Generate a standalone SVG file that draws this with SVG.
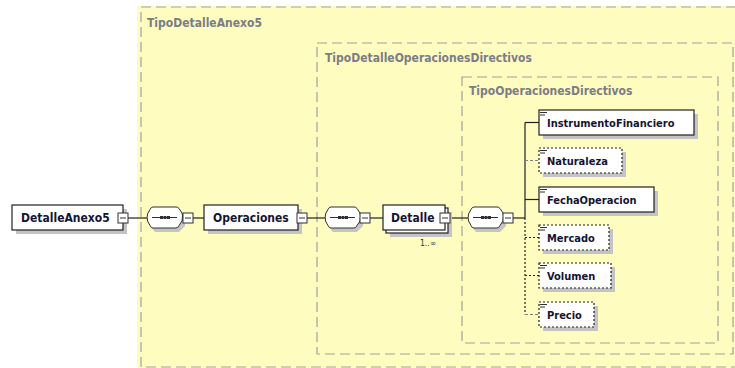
<svg xmlns="http://www.w3.org/2000/svg" width="735" height="368" viewBox="0 0 735 368">
<style>
.frame{fill:none;stroke:#a0a0a0;stroke-width:1.2;stroke-dasharray:10,5}
.tlabel{font-family:"DejaVu Sans Condensed","DejaVu Sans",sans-serif;font-weight:bold;font-size:12px;fill:#7c7c86}
.box{fill:#ffffff;stroke:#202020;stroke-width:1.2}
.obox{fill:#ffffff;stroke:#202020;stroke-width:1.2;stroke-dasharray:2,2}
.shadow{fill:#c4c4c4}
.name{font-family:"DejaVu Sans Condensed","DejaVu Sans",sans-serif;font-weight:bold;font-size:11px;fill:#141432}
.big{font-size:12px}
.line{stroke:#202020;stroke-width:1.2;fill:none}
.dline{stroke:#202020;stroke-width:1.2;fill:none;stroke-dasharray:2,2}
.gline{stroke:#808080;stroke-width:1;fill:none;stroke-dasharray:3,2}
.mb{fill:#ffffff;stroke:#303030;stroke-width:1}
.comp{fill:#ffffff;stroke:#303030;stroke-width:1}
.icon{stroke:#303030;stroke-width:1}
</style>
<defs>
<g id="minus"><rect class="mb" x="0" y="0" width="10" height="10"/><line class="icon" x1="2" y1="5" x2="8" y2="5"/></g>
<g id="seq">
<path class="shadow" d="M8,3 H32 L38,9 V19 L32,25 H8 L3,19 V9 Z"/>
<path class="comp" d="M6,0 H29 Q31,0 32,1.5 L35,6 Q36,8 35,14 L32,18.5 Q31,21 29,21 H6 Q4,21 3,18.5 L0.5,14 Q0,10.5 0.5,7 L3,2.5 Q4,0 6,0 Z"/>
<line class="icon" x1="5" y1="10.5" x2="30" y2="10.5"/>
<rect x="13" y="9" width="3" height="3" fill="#303030"/>
<rect x="16.5" y="9" width="3" height="3" fill="#303030"/>
<rect x="20" y="9" width="3" height="3" fill="#303030"/>
</g>
<g id="eq"><line class="icon" x1="0" y1="0.5" x2="7" y2="0.5"/><line class="icon" x1="0" y1="3" x2="5" y2="3"/></g>
</defs>

<g id="frames">
<rect x="137" y="6" width="598" height="362" fill="#fffcc0"/>
<rect class="frame" x="141" y="7" width="600" height="360"/>
<text class="tlabel" x="147" y="27">TipoDetalleAnexo5</text>
<rect class="frame" x="317" y="43" width="416" height="311"/>
<text class="tlabel" x="325" y="62">TipoDetalleOperacionesDirectivos</text>
<rect class="frame" x="462" y="77" width="256" height="266"/>
<text class="tlabel" x="469" y="95">TipoOperacionesDirectivos</text>
</g>

<g id="connectors">
<line class="line" x1="128" y1="218" x2="147" y2="218"/>
<line class="line" x1="193" y1="218" x2="204" y2="218"/>
<line class="line" x1="307" y1="218" x2="325" y2="218"/>
<line class="line" x1="370" y1="218" x2="383" y2="218"/>
<line class="line" x1="451" y1="218" x2="468" y2="218"/>
<line class="line" x1="513" y1="218" x2="525" y2="218"/>
<line class="line" x1="525" y1="122.5" x2="525" y2="218"/>
<line class="dline" x1="525" y1="218" x2="525" y2="314.5"/>
<line class="line" x1="525" y1="122.5" x2="539" y2="122.5"/>
<line class="gline" x1="525" y1="160.5" x2="539" y2="160.5"/>
<line class="line" x1="525" y1="199.5" x2="539" y2="199.5" stroke="#606060"/>
<line class="dline" x1="525" y1="237.5" x2="539" y2="237.5"/>
<line class="dline" x1="525" y1="275.5" x2="539" y2="275.5"/>
<line class="gline" x1="525" y1="314.5" x2="539" y2="314.5"/>
</g>

<g id="DetalleAnexo5">
<rect class="shadow" x="16" y="209" width="111" height="25"/>
<rect class="box" x="12" y="205" width="111" height="25"/>
<text class="name big" x="21" y="222">DetalleAnexo5</text>
<use href="#minus" x="118" y="213"/>
</g>

<g id="seq1"><use href="#seq" x="147" y="207"/><use href="#minus" x="183" y="213"/></g>

<g id="Operaciones">
<rect class="shadow" x="208" y="209" width="94" height="25"/>
<rect class="box" x="204" y="205" width="94" height="25"/>
<text class="name big" x="213" y="222">Operaciones</text>
<use href="#minus" x="297" y="213"/>
</g>

<g id="seq2"><use href="#seq" x="325" y="207"/><use href="#minus" x="360" y="213"/></g>

<g id="Detalle">
<rect class="shadow" x="390" y="212" width="62" height="25"/>
<rect class="box" x="386" y="208" width="62" height="25"/>
<rect class="box" x="383" y="205" width="62" height="25"/>
<text class="name big" x="391" y="222">Detalle</text>
<use href="#minus" x="440" y="213"/>
<text x="420" y="246" font-family="DejaVu Sans Condensed, DejaVu Sans, sans-serif" font-size="8.5px" fill="#303050">1..∞</text>
</g>

<g id="seq3"><use href="#seq" x="468" y="207"/><use href="#minus" x="503" y="213"/></g>

<g id="InstrumentoFinanciero">
<rect class="shadow" x="543" y="114" width="155" height="25"/>
<rect class="box" x="539" y="110" width="155" height="25"/>
<use href="#eq" x="540" y="112"/>
<text class="name" x="547" y="127">InstrumentoFinanciero</text>
</g>
<g id="Naturaleza">
<rect class="shadow" x="543" y="152" width="83" height="25"/>
<rect class="obox" x="539" y="148" width="83" height="25"/>
<use href="#eq" x="540" y="150"/>
<text class="name" x="547" y="165">Naturaleza</text>
</g>
<g id="FechaOperacion">
<rect class="shadow" x="543" y="191" width="115" height="25"/>
<rect class="box" x="539" y="187" width="115" height="25"/>
<use href="#eq" x="540" y="189"/>
<text class="name" x="547" y="204">FechaOperacion</text>
</g>
<g id="Mercado">
<rect class="shadow" x="543" y="229" width="70" height="25"/>
<rect class="obox" x="539" y="225" width="70" height="25"/>
<use href="#eq" x="540" y="227"/>
<text class="name" x="547" y="242">Mercado</text>
</g>
<g id="Volumen">
<rect class="shadow" x="543" y="267" width="72" height="25"/>
<rect class="obox" x="539" y="263" width="72" height="25"/>
<use href="#eq" x="540" y="265"/>
<text class="name" x="547" y="280">Volumen</text>
</g>
<g id="Precio">
<rect class="shadow" x="543" y="306" width="55" height="25"/>
<rect class="obox" x="539" y="302" width="55" height="25"/>
<use href="#eq" x="540" y="304"/>
<text class="name" x="547" y="319">Precio</text>
</g>
</svg>
